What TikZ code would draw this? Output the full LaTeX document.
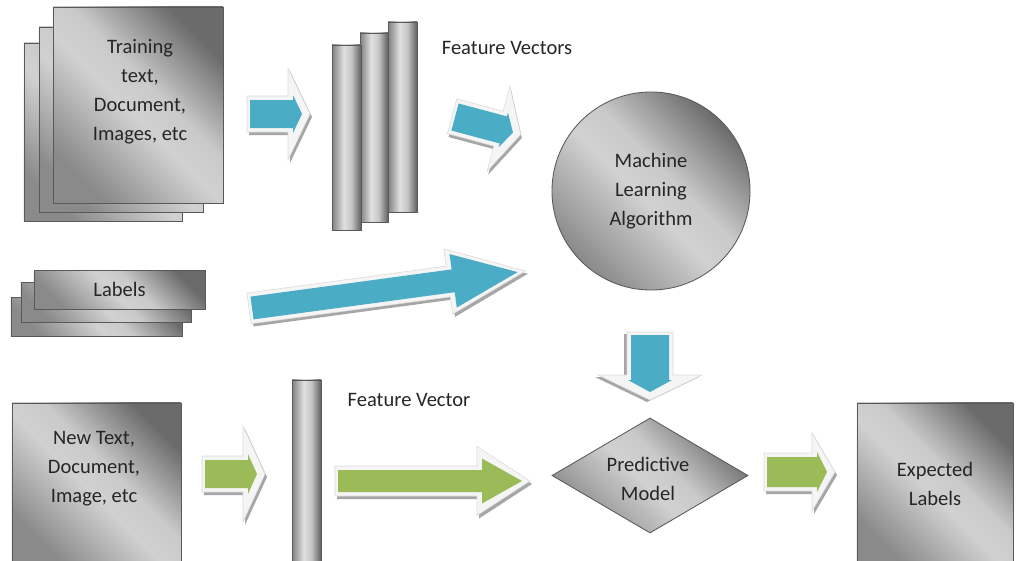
\documentclass[tikz,border=0pt]{standalone}
\usepackage{fontspec}
\setmainfont{Carlito}
\usetikzlibrary{shapes, calc, positioning}

\pgfdeclarehorizontalshading{sheet}{100bp}{color(0bp)=(black!46); color(25bp)=(black!46); color(47bp)=(black!18); color(56bp)=(black!21); color(75bp)=(black!58); color(100bp)=(black!58)}
\pgfdeclarehorizontalshading{rod}{100bp}{color(0bp)=(black!50); color(25bp)=(black!50); color(45bp)=(black!12); color(58bp)=(black!22); color(75bp)=(black!62); color(100bp)=(black!62)}

\definecolor{faceblue}{RGB}{75,172,198}
\definecolor{facegreen}{RGB}{155,187,89}

\tikzset{
    page/.style={draw=black!65, line width=0.6pt, shading=sheet, shading angle=45, inner sep=0pt},
    bar/.style={draw=black!65, line width=0.6pt, shading=rod, inner sep=0pt},
    lbl/.style={align=center, text=black!85, font=\fontsize{14.6}{20.6}\selectfont},
    % length / half body / half head / head length / half outer head / colour
    pics/blockarrow/.style n args={6}{code={
        \fill[black!35, shift={(2,3)}] (-3,{-#2-4}) -- ({#1-#4-5},{-#2-4}) -- ({#1-#4-5},-#5) -- ({#1+8},0) -- ({#1-#4-5},#5) -- ({#1-#4-5},{#2+4}) -- (-3,{#2+4}) -- cycle;
        \filldraw[fill=black!4, draw=black!14] (-3,{-#2-4}) -- ({#1-#4-5},{-#2-4}) -- ({#1-#4-5},-#5) -- ({#1+8},0) -- ({#1-#4-5},#5) -- ({#1-#4-5},{#2+4}) -- (-3,{#2+4}) -- cycle;
        \fill[#6] (0,-#2) -- ({#1-#4},-#2) -- ({#1-#4},-#3) -- (#1,0) -- ({#1-#4},#3) -- ({#1-#4},#2) -- (0,#2) -- cycle;
    }}
}

\begin{document}
\begin{tikzpicture}[x=0.025cm, y=-0.025cm]
    \clip (0,0) rectangle (1016,560);
    \fill[white] (0,0) rectangle (1016,560);

    % training data
    \node[page, minimum width=3.95cm, minimum height=4.45cm] (train3) at (103,132) {};
    \node[page, minimum width=4.1cm, minimum height=4.625cm] (train2) at (121,119.5) {};
    \node[page, minimum width=4.25cm, minimum height=4.9cm] (train1) at (138,105) {};
    \node[lbl] (train-txt) at (140,92) {Training\\text,\\Document,\\Images, etc};

    % feature vectors
    \node[bar, minimum width=0.725cm, minimum height=4.75cm] (fv3) at (402.5,117) {};
    \node[bar, minimum width=0.7cm, minimum height=4.725cm] (fv2) at (374,127.5) {};
    \node[bar, minimum width=0.725cm, minimum height=4.625cm] (fv1) at (346.5,137.5) {};
    \node[lbl] (fv-txt) at (507,48) {Feature Vectors};

    \node[circle, draw=black!65, line width=0.6pt, shading=sheet, shading angle=45, minimum size=4.95cm, lbl] (mla) at (651,191) {Machine\\Learning\\Algorithm};

    % labels
    \node[page, minimum width=4.275cm, minimum height=0.975cm] (lab3) at (96.5,316.5) {};
    \node[page, minimum width=4.25cm, minimum height=1cm] (lab2) at (106,302) {};
    \node[page, minimum width=4.275cm, minimum height=0.975cm, lbl] (lab1) at (119.5,289.5) {Labels};

    % new input
    \node[page, minimum width=4.225cm, minimum height=4.0cm] (new) at (96.5,483) {};
    \node[lbl] (new-txt) at (94,469) {New Text,\\Document,\\Image, etc};
    \node[bar, minimum width=0.725cm, minimum height=4.55cm] (fv0) at (306.5,471) {};
    \node[lbl] (fv0-txt) at (409,400) {Feature Vector};

    \node[diamond, draw=black!65, line width=0.6pt, shading=sheet, shading angle=45, minimum width=4.9cm, minimum height=2.875cm, inner sep=0pt] (pm) at (650,475.5) {};
    \node[lbl] (pm-txt) at ($(pm.center)+(-2,3)$) {Predictive\\Model};

    \node[page, minimum width=3.9cm, minimum height=4.05cm, lbl] (exp) at (935,484) {Expected\\Labels};

    % block arrows
    \pic (arrA) at (250,114) {blockarrow={52}{14}{19}{9}{46}{faceblue}};
    \pic[rotate=-15] (arrB) at (455,117) {blockarrow={60}{14}{18}{10}{44}{faceblue}};
    \pic[rotate=7.7] (arrC) at (252,308) {blockarrow={268}{11.5}{27}{65}{33}{faceblue}};
    \pic[rotate=-90] (arrD) at (650,335) {blockarrow={57}{19}{22}{12}{52}{faceblue}};
    \pic (arrE) at (205,474) {blockarrow={52}{14}{20}{9}{48}{facegreen}};
    \pic (arrF) at (338,481) {blockarrow={184}{11}{22.5}{40}{34.5}{facegreen}};
    \pic (arrG) at (767,472) {blockarrow={60}{15}{20}{10}{39}{facegreen}};
\end{tikzpicture}
\end{document}
